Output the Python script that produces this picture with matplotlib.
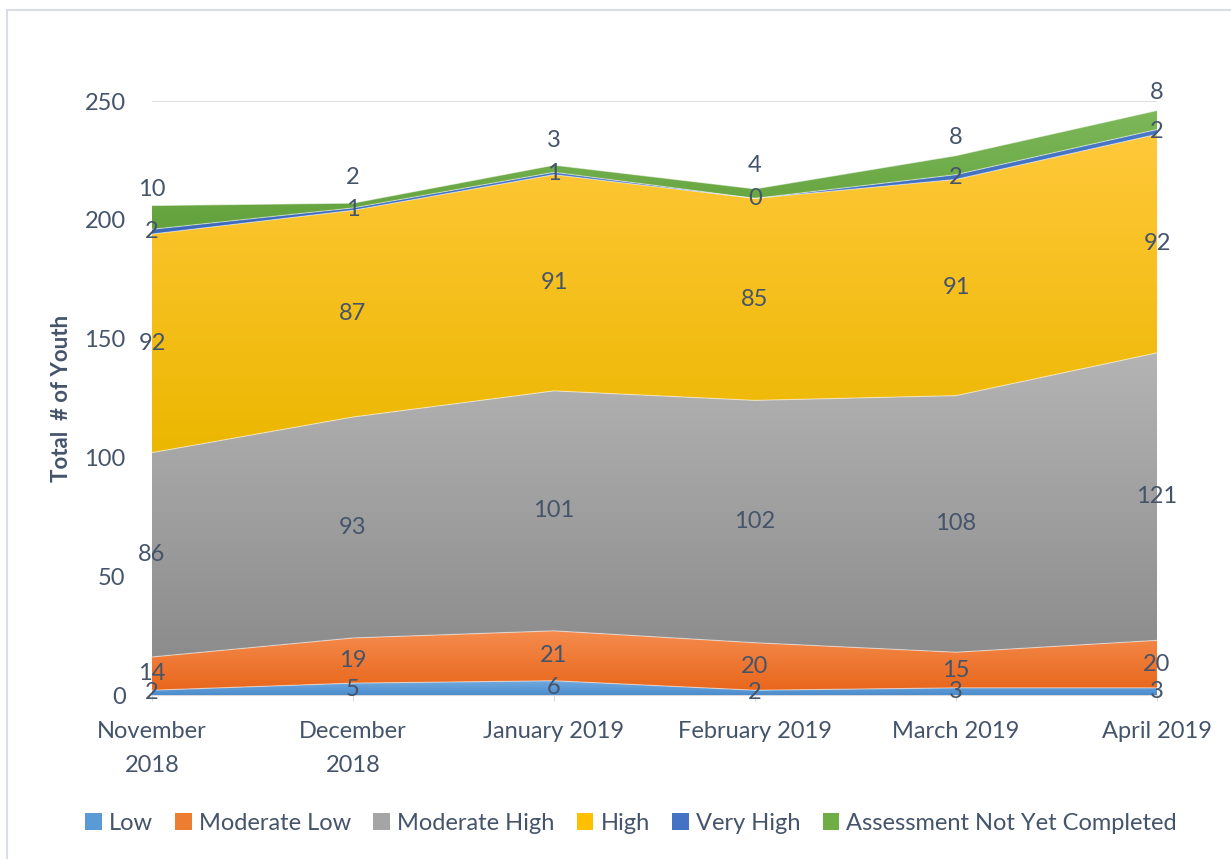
import numpy as np
import matplotlib
matplotlib.use("Agg")
import matplotlib.pyplot as plt
from matplotlib.colors import LinearSegmentedColormap
from matplotlib.patches import Patch, Rectangle

categories = ["November\n2018", "December\n2018", "January 2019", "February 2019", "March 2019", "April 2019"]
series_names = ["Low", "Moderate Low", "Moderate High", "High", "Very High", "Assessment Not Yet Completed"]
low = [2, 5, 6, 2, 3, 3]
moderate_low = [14, 19, 21, 20, 15, 20]
moderate_high = [86, 93, 101, 102, 108, 121]
high = [92, 87, 91, 85, 91, 92]
very_high = [2, 1, 1, 0, 2, 2]
not_completed = [10, 2, 3, 4, 8, 8]
yticks = [0, 50, 100, 150, 200, 250]

series = [low, moderate_low, moderate_high, high, very_high, not_completed]
grad_colors = [("#72AADF", "#4C8DCD"), ("#F58C4E", "#E8671C"), ("#B4B4B4", "#8C8C8C"),
               ("#FFC83A", "#ECB700"), ("#4A78C8", "#3D69BB"), ("#7DB85A", "#62A13B")]
solid_colors = ["#5B9BD5", "#ED7D31", "#A5A5A5", "#FFC000", "#4472C4", "#70AD47"]
text_color = "#44546A"
font = "Lato"
plt.rcParams['font.family'] = [font, 'DejaVu Sans']

fig = plt.figure(figsize=(12.31, 8.59), dpi=100)
ax = fig.add_axes([152/1231, 1-695/859, (1157-152)/1231, (695-101)/859])

x = np.arange(len(categories))
ax.set_xlim(0, len(categories)-1)
ax.set_ylim(0, 250)

for yv in yticks[1:]:
    ax.axhline(yv, color="#D9D9D9", lw=1.2, zorder=0)

base = np.zeros(len(categories))
n_series = len(series)
for si, (vals, (ctop, cbot), name) in enumerate(zip(series, grad_colors, series_names)):
    vals = np.array(vals, dtype=float)
    top = base + vals
    poly = ax.fill_between(x, base, top, facecolor="none", edgecolor="none", zorder=2)
    ymin, ymax = base.min(), top.max()
    if ymax > ymin:
        cmap = LinearSegmentedColormap.from_list(name, [cbot, ctop])
        grad = np.linspace(0, 1, 256).reshape(-1, 1)
        im = ax.imshow(grad, cmap=cmap, aspect="auto", origin="lower",
                       extent=[0, len(categories)-1, ymin, ymax], zorder=2,
                       interpolation="bilinear")
        im.set_clip_path(poly.get_paths()[0], transform=ax.transData)
    ax.plot(x, top, color="white", lw=0.8, alpha=0.5, zorder=3)
    is_top = si == n_series - 1
    for xi, b, v in zip(x, base, vals):
        ypos = b + v/2
        if is_top:
            ax.annotate(f"{int(v)}", (xi, ypos), xytext=(0, 20), textcoords="offset points",
                        ha="center", va="center", fontsize=17, color=text_color,
                        zorder=5, annotation_clip=False)
        else:
            ax.text(xi, ypos, f"{int(v)}", ha="center", va="center", fontsize=17,
                    color=text_color, zorder=5, clip_on=False)
    base = top

ax.set_xticks(x)
ax.set_xticklabels(categories, fontsize=17, color=text_color, linespacing=1.75)
ax.set_yticks(yticks)
ax.set_yticklabels([str(v) for v in yticks], fontsize=17, color=text_color)
ax.tick_params(axis="y", length=0, pad=19)
ax.tick_params(axis="x", length=4, color="#D9D9D9", pad=15)
for s in ["top", "right", "left"]:
    ax.spines[s].set_visible(False)
ax.spines["bottom"].set_color("#D9D9D9")
ax.spines["bottom"].set_zorder(1)
ax.set_ylabel("Total  # of Youth", fontsize=16, fontweight="bold", color=text_color, labelpad=9)

handles = [Patch(facecolor=c, edgecolor="none") for c in solid_colors]
fig.legend(handles, series_names, loc="center", bbox_to_anchor=(631/1231, 1-823/859),
           ncol=6, frameon=False, fontsize=17, handlelength=0.7, handleheight=0.7,
           handletextpad=0.3, columnspacing=0.95, labelcolor=text_color)

fig.patches.append(Rectangle((7/1231, -0.1), 1.2, 1.1 - 10/859, transform=fig.transFigure,
                             fill=False, edgecolor="#D9DEE5", lw=1.5))

fig.savefig("out.png", dpi=100)
